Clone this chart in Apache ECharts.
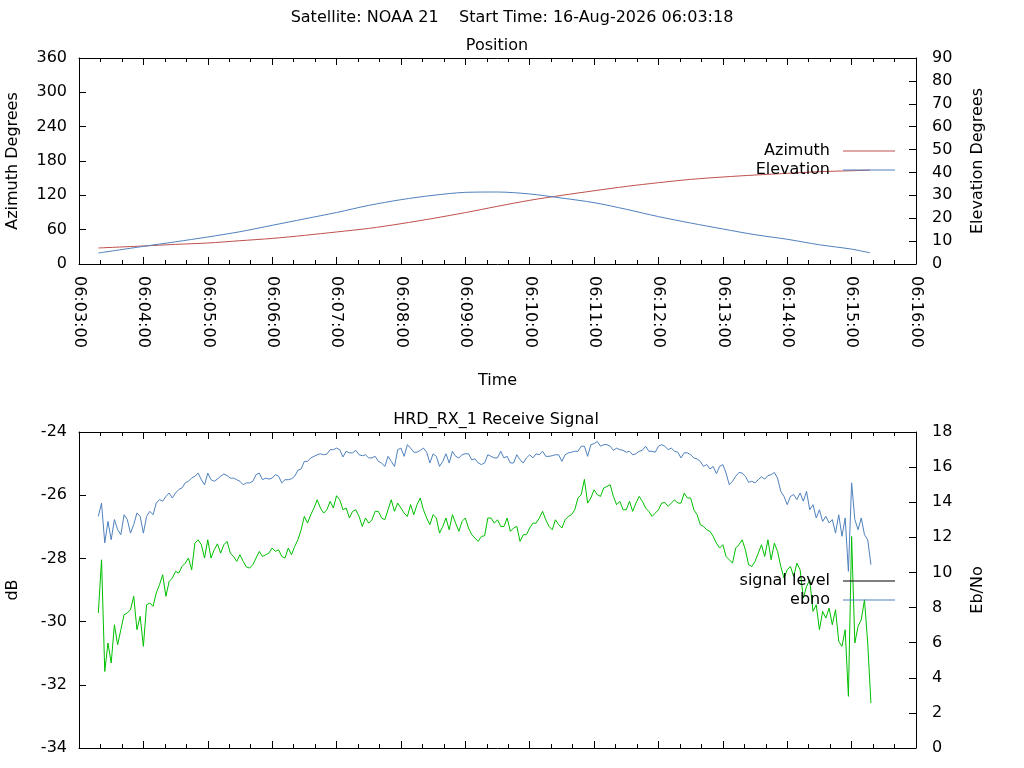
<!DOCTYPE html>
<html>
<head>
<meta charset="utf-8">
<title>NOAA 21 pass</title>
<script src="https://cdn.jsdelivr.net/npm/echarts@6/dist/echarts.min.js"></script>
<style>
    html, body { margin: 0; padding: 0; background: #fff; }
    #chart { width: 1024px; height: 768px; }
</style>
</head>
<body>
<div id="chart"></div>
<script>
// position panel, seconds after 06:03:00
var posTime = [18, 60, 90, 120, 150, 180, 210, 240, 270, 300, 330, 360, 390,
    420, 450, 480, 510, 540, 570, 600, 630, 660, 690, 720, 737];
var azimuth = [28.0, 31.5, 34.3, 36.7, 40.7, 44.7, 50.0, 56.0, 62.2, 70.4, 79.7, 89.8, 100.8,
    111.3, 120.0, 128.0, 135.6, 142.1, 147.9, 152.0, 155.5, 158.4, 161.3, 163.0, 164.0];
var elevation = [4.8, 7.7, 9.7, 11.8, 14.1, 16.9, 19.7, 22.5, 25.6, 28.1, 30.0, 31.3, 31.45,
    30.6, 28.8, 26.8, 23.9, 20.7, 17.9, 15.3, 12.8, 10.8, 8.4, 6.5, 4.9];

// receive signal panel, one sample every 3 s from 06:03:18
var sigStart = 18;
var sigStep = 3;
var signalLevel = [
    -26.67, -26.25, -27.51, -26.83, -27.41, -26.77, -27.09, -27.25, -26.62, -26.77,
    -27.20, -26.93, -26.56, -26.67, -27.20, -26.67, -26.51, -26.62, -26.25, -26.14,
    -26.19, -26.04, -25.93, -26.09, -25.93, -25.82, -25.77, -25.61, -25.56, -25.46,
    -25.40, -25.30, -25.51, -25.67, -25.30, -25.51, -25.56, -25.49, -25.40, -25.33,
    -25.38, -25.46, -25.46, -25.51, -25.56, -25.67, -25.61, -25.61, -25.56, -25.35,
    -25.30, -25.51, -25.46, -25.49, -25.46, -25.35, -25.40, -25.61, -25.51, -25.51,
    -25.48, -25.40, -25.21, -25.17, -24.93, -24.93, -24.82, -24.77, -24.72, -24.69,
    -24.72, -24.70, -24.56, -24.56, -24.51, -24.56, -24.79, -24.61, -24.66, -24.66,
    -24.58, -24.72, -24.75, -24.72, -24.82, -24.82, -24.77, -24.93, -24.98, -25.09,
    -24.77, -24.93, -25.09, -24.56, -24.51, -24.77, -24.40, -24.51, -24.64, -24.64,
    -24.58, -24.51, -24.64, -24.98, -24.69, -24.77, -25.09, -24.93, -24.69, -24.98,
    -24.61, -24.77, -24.82, -24.72, -24.69, -24.69, -24.88, -24.85, -24.98, -25.03,
    -24.98, -24.72, -24.77, -24.82, -24.82, -24.61, -24.82, -24.77, -24.98, -24.98,
    -24.72, -24.88, -24.98, -24.82, -24.72, -24.82, -24.69, -24.72, -24.61, -24.77,
    -24.77, -24.75, -24.72, -24.72, -24.93, -24.72, -24.66, -24.64, -24.61, -24.61,
    -24.45, -24.45, -24.77, -24.40, -24.37, -24.30, -24.45, -24.40, -24.40, -24.45,
    -24.58, -24.51, -24.56, -24.58, -24.64, -24.61, -24.72, -24.69, -24.61, -24.58,
    -24.45, -24.61, -24.61, -24.64, -24.45, -24.40, -24.45, -24.56, -24.51, -24.61,
    -24.64, -24.82, -24.66, -24.66, -24.72, -24.82, -24.85, -24.93, -25.09, -25.03,
    -25.17, -25.09, -25.32, -25.09, -25.03, -25.30, -25.67, -25.56, -25.40, -25.28,
    -25.30, -25.40, -25.59, -25.56, -25.61, -25.51, -25.42, -25.49, -25.38, -25.35,
    -25.28, -25.46, -25.88, -26.04, -26.30, -26.04, -25.98, -26.14, -25.93, -26.19,
    -25.88, -26.46, -26.30, -26.72, -26.46, -26.83, -26.67, -26.88, -26.77, -27.20,
    -26.62, -27.30, -26.72, -28.41, -25.61, -26.77, -27.09, -26.72, -27.25, -27.41,
    -28.20
];
var ebno = [
    7.69, 10.72, 4.36, 5.98, 4.84, 7.02, 5.88, 6.74, 7.59, 7.69,
    7.88, 8.64, 6.74, 7.50, 5.79, 8.16, 8.26, 8.07, 8.83, 9.30,
    9.87, 8.64, 9.49, 9.68, 10.06, 9.96, 10.34, 10.53, 10.82, 10.15,
    11.67, 11.86, 11.58, 10.82, 11.86, 10.82, 11.29, 11.63, 11.10, 11.58,
    11.77, 11.10, 10.91, 10.63, 11.01, 10.63, 10.31, 10.25, 10.44, 10.82,
    11.20, 10.91, 11.01, 11.10, 11.39, 11.20, 11.29, 10.91, 10.82, 11.39,
    11.01, 11.48, 11.86, 12.43, 13.19, 12.81, 13.29, 13.67, 14.14, 13.67,
    13.38, 13.57, 14.05, 13.67, 14.37, 14.14, 13.57, 13.67, 13.10, 13.48,
    13.57, 13.19, 12.62, 13.10, 12.81, 13.00, 13.48, 13.48, 13.10, 13.00,
    13.57, 14.14, 13.48, 13.95, 13.67, 13.38, 13.19, 13.86, 13.29, 13.86,
    14.24, 13.57, 13.10, 12.72, 13.29, 13.10, 12.24, 12.62, 13.10, 12.43,
    13.29, 12.81, 12.34, 12.91, 13.10, 12.53, 12.15, 11.96, 11.77, 12.05,
    12.09, 13.10, 13.10, 12.81, 13.00, 12.62, 12.62, 13.10, 12.34, 12.53,
    12.62, 11.77, 12.15, 12.15, 12.53, 12.81, 12.81, 13.10, 13.48, 13.00,
    12.62, 12.43, 13.00, 12.72, 12.53, 13.00, 13.19, 13.29, 13.57, 14.24,
    14.43, 15.30, 13.95, 14.24, 14.71, 14.43, 14.33, 14.81, 14.90, 15.00,
    14.33, 13.86, 14.05, 13.57, 13.57, 14.05, 13.48, 13.95, 14.33, 14.05,
    13.67, 13.48, 13.19, 13.38, 13.57, 13.95, 13.99, 13.76, 13.95, 14.14,
    13.95, 13.95, 14.52, 14.24, 14.24, 13.57, 13.29, 12.72, 12.62, 12.43,
    12.34, 12.05, 11.67, 11.39, 11.58, 10.91, 10.72, 10.53, 11.39, 11.58,
    11.86, 11.29, 10.44, 10.34, 10.63, 11.10, 11.58, 10.91, 11.86, 10.72,
    11.67, 11.20, 10.34, 9.68, 10.15, 10.34, 9.77, 10.53, 10.15, 8.54,
    9.20, 9.58, 7.78, 8.16, 6.74, 7.78, 7.40, 7.97, 7.02, 7.88,
    6.07, 5.79, 6.74, 2.94, 12.05, 5.98, 6.93, 7.31, 8.44, 5.98,
    2.55
];

var FONT = 'DejaVu Sans';
var RED = '#c0504d';
var BLUE = '#4f81bd';
var GREEN = '#00c000';

function pad(n) {
    return (n < 10 ? '0' : '') + n;
}
function fmtTime(v) {
    var m = 3 + Math.floor(v / 60);
    var s = v % 60;
    return '06:' + pad(m) + ':' + pad(s);
}

function timeAxis(gridIndex, position, showLabel) {
    return {
        type: 'value',
        gridIndex: gridIndex,
        position: position,
        min: 0,
        max: 780,
        interval: 60,
        axisLine: { show: true, onZero: false, lineStyle: { color: '#000', width: 1 } },
        axisTick: { show: true, inside: true, length: 7, lineStyle: { color: '#000' } },
        minorTick: { show: true, splitNumber: 3, length: 4, lineStyle: { color: '#000' } },
        splitLine: { show: false },
        axisLabel: {
            show: showLabel,
            rotate: -90,
            margin: 12,
            color: '#000',
            fontSize: 16,
            fontFamily: FONT,
            formatter: fmtTime
        }
    };
}

function valueAxis(gridIndex, position, min, max, interval, name, gap, margin) {
    return {
        type: 'value',
        gridIndex: gridIndex,
        position: position,
        min: min,
        max: max,
        interval: interval,
        name: name,
        nameLocation: 'middle',
        nameRotate: 90,
        nameGap: gap,
        nameTextStyle: { color: '#000', fontSize: 16, fontFamily: FONT },
        axisLine: { show: true, onZero: false, lineStyle: { color: '#000', width: 1 } },
        axisTick: { show: true, inside: true, length: 7, lineStyle: { color: '#000' } },
        splitLine: { show: false },
        axisLabel: { margin: margin, color: '#000', fontSize: 16, fontFamily: FONT }
    };
}

function pairs(times, values) {
    return values.map(function (v, i) { return [times[i], v]; });
}

var sigTime = signalLevel.map(function (v, i) { return sigStart + i * sigStep; });

function legendBox(items, top) {
    return {
        data: items,
        orient: 'vertical',
        right: 129,
        top: top,
        padding: 0,
        align: 'right',
        icon: 'rect',
        itemWidth: 52,
        itemHeight: 1,
        itemGap: 1,
        selectedMode: false,
        itemStyle: { borderWidth: 0 },
        textStyle: { color: '#000', fontSize: 16, fontFamily: FONT, lineHeight: 18, padding: [0, 8, 0, 0] }
    };
}

function label(text, x, y) {
    return {
        type: 'text',
        x: x,
        y: y,
        style: {
            text: text,
            font: '16px "DejaVu Sans"',
            fill: '#000',
            align: 'center',
            verticalAlign: 'middle',
            textAlign: 'center',
            textVerticalAlign: 'middle'
        }
    };
}

var chart = echarts.init(document.getElementById('chart'));

var option = {
    animation: false,
    backgroundColor: '#fff',
    textStyle: { fontFamily: FONT },
    graphic: [
        label('Satellite: NOAA 21    Start Time: 16-Aug-2026 06:03:18', 512, 18),
        label('Position', 497, 46),
        label('HRD_RX_1 Receive Signal', 496, 420)
    ],
    grid: [
        { left: 79, right: 108, top: 58, height: 206, outerBoundsMode: 'none', containLabel: false },
        { left: 79, right: 108, top: 432, height: 316, outerBoundsMode: 'none', containLabel: false }
    ],
    legend: [
        legendBox([
            { name: 'Azimuth', itemStyle: { color: RED, borderWidth: 0 } },
            { name: 'Elevation', itemStyle: { color: BLUE, borderWidth: 0 } }
        ], 142),
        legendBox([
            { name: 'signal level', itemStyle: { color: '#000', borderWidth: 0 } },
            { name: 'ebno', itemStyle: { color: BLUE, borderWidth: 0 } }
        ], 572)
    ],
    xAxis: [
        Object.assign(timeAxis(0, 'bottom', true), {
            name: 'Time',
            nameLocation: 'middle',
            nameGap: 109,
            nameTextStyle: { color: '#000', fontSize: 16, fontFamily: FONT }
        }),
        timeAxis(0, 'top', false),
        timeAxis(1, 'bottom', false),
        timeAxis(1, 'top', false)
    ],
    yAxis: [
        valueAxis(0, 'left', 0, 360, 60, 'Azimuth Degrees', 58, 12),
        valueAxis(0, 'right', 0, 90, 10, 'Elevation Degrees', 54, 16),
        valueAxis(1, 'left', -34, -24, 2, 'dB', 58, 12),
        valueAxis(1, 'right', 0, 18, 2, 'Eb/No', 54, 16)
    ],
    series: [
        {
            name: 'Azimuth',
            type: 'line',
            xAxisIndex: 0,
            yAxisIndex: 0,
            data: pairs(posTime, azimuth),
            symbol: 'none',
            smooth: 0.3,
            lineStyle: { width: 1, color: RED },
            itemStyle: { color: RED }
        },
        {
            name: 'Elevation',
            type: 'line',
            xAxisIndex: 0,
            yAxisIndex: 1,
            data: pairs(posTime, elevation),
            symbol: 'none',
            smooth: 0.3,
            lineStyle: { width: 1, color: BLUE },
            itemStyle: { color: BLUE }
        },
        {
            name: 'signal level',
            type: 'line',
            xAxisIndex: 2,
            yAxisIndex: 2,
            data: pairs(sigTime, signalLevel),
            symbol: 'none',
            lineStyle: { width: 1, color: BLUE },
            itemStyle: { color: BLUE }
        },
        {
            name: 'ebno',
            type: 'line',
            xAxisIndex: 2,
            yAxisIndex: 3,
            data: pairs(sigTime, ebno),
            symbol: 'none',
            lineStyle: { width: 1, color: GREEN },
            itemStyle: { color: GREEN }
        }
    ]
};

chart.setOption(option);
</script>
</body>
</html>
